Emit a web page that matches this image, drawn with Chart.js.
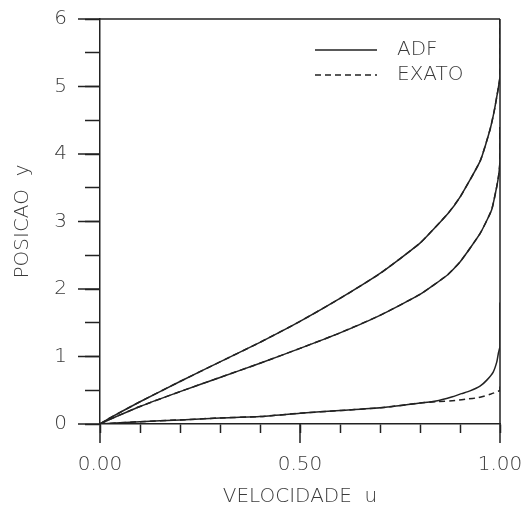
<!DOCTYPE html>
<html>
<head>
<meta charset="utf-8">
<script src="https://cdn.jsdelivr.net/npm/chart.js@4.4.1/dist/chart.umd.min.js"></script>
<style>
  html, body { margin: 0; padding: 0; background: #fff; }
  #wrap { width: 527px; height: 512px; }
</style>
</head>
<body>
<div id="wrap"><canvas id="chartPerfil" width="527" height="512"></canvas></div>
<script>
// curva superior (ADF e exato praticamente coincidem)
const uSuperior = [0, 0.025, 0.1, 0.2, 0.3, 0.4, 0.5, 0.6, 0.7, 0.8, 0.87, 0.9, 0.95, 0.975, 0.985, 0.992, 0.997, 1.0, 1.0];
const ySuperior = [0, 0.09, 0.33, 0.63, 0.92, 1.21, 1.52, 1.86, 2.23, 2.68, 3.12, 3.36, 3.89, 4.36, 4.62, 4.85, 5.02, 5.15, 6.0];

// curva intermediaria
const uMedio = [0, 0.025, 0.1, 0.2, 0.3, 0.4, 0.5, 0.6, 0.7, 0.8, 0.867, 0.9, 0.95, 0.979, 0.992, 0.997, 1.0, 1.0];
const yMedio = [0, 0.07, 0.26, 0.48, 0.69, 0.9, 1.12, 1.35, 1.61, 1.92, 2.2, 2.4, 2.82, 3.17, 3.52, 3.7, 3.9, 4.4];

// curva inferior, ADF
const uInferiorAdf = [0, 0.1, 0.2, 0.3, 0.4, 0.5, 0.6, 0.7, 0.8, 0.84, 0.879, 0.904, 0.925, 0.95, 0.967, 0.983, 0.992, 0.996, 1.0, 1.0];
const yInferiorAdf = [0, 0.035, 0.06, 0.09, 0.11, 0.16, 0.2, 0.24, 0.31, 0.34, 0.4, 0.45, 0.49, 0.56, 0.65, 0.77, 0.92, 1.05, 1.15, 1.8];

// curva inferior, exato
const uInferiorExato = [0, 0.1, 0.2, 0.3, 0.4, 0.5, 0.6, 0.7, 0.8, 0.84, 0.892, 0.917, 0.946, 0.975, 1.0, 1.0];
const yInferiorExato = [0, 0.035, 0.06, 0.09, 0.11, 0.16, 0.2, 0.24, 0.31, 0.33, 0.35, 0.37, 0.39, 0.44, 0.5, 0.6];

const xMajorTicks = [0, 0.5, 1.0];
const yMajorTicks = [0, 1, 2, 3, 4, 5, 6];

const INK = '#222';
const TEXT = '#3a3a3a';
const FONT = { family: 'DejaVu Sans', size: 20, weight: 200 };

const toPoints = (us, ys) => us.map((u, i) => ({ x: u, y: ys[i] }));
const isMajor = (value, majors) => majors.some((m) => Math.abs(m - value) < 1e-6);

function lineSet(label, us, ys, dashed) {
  return {
    label,
    data: toPoints(us, ys),
    showLine: true,
    borderColor: INK,
    borderWidth: 1.5,
    borderDash: dashed ? [6, 4] : [],
    pointRadius: 0,
    tension: 0.15,
    fill: false,
  };
}

// moldura superior/direita e ticks maiores mais longos
const framePlugin = {
  id: 'frame',
  afterDraw(chart) {
    const { ctx, chartArea, scales } = chart;
    ctx.save();
    ctx.strokeStyle = INK;
    ctx.lineWidth = 1.5;
    ctx.beginPath();
    ctx.moveTo(chartArea.left, chartArea.top);
    ctx.lineTo(chartArea.right, chartArea.top);
    ctx.moveTo(chartArea.right, chartArea.top);
    ctx.lineTo(chartArea.right, chartArea.bottom);
    xMajorTicks.forEach((v) => {
      const px = scales.x.getPixelForValue(v);
      ctx.moveTo(px, chartArea.bottom);
      ctx.lineTo(px, chartArea.bottom + 19);
    });
    yMajorTicks.forEach((v) => {
      const py = scales.y.getPixelForValue(v);
      ctx.moveTo(chartArea.left - 22, py);
      ctx.lineTo(chartArea.left, py);
    });
    ctx.stroke();
    ctx.restore();
  },
};

// legenda dentro da area do grafico
const legendPlugin = {
  id: 'legendaInterna',
  afterDraw(chart) {
    const { ctx, chartArea } = chart;
    const entries = [
      { text: 'ADF', dash: [] },
      { text: 'EXATO', dash: [6, 4] },
    ];
    const x0 = chartArea.left + 215;
    const x1 = chartArea.left + 277;
    ctx.save();
    entries.forEach((entry, i) => {
      const y = chartArea.top + 31 + i * 25;
      ctx.strokeStyle = INK;
      ctx.lineWidth = 1.5;
      ctx.setLineDash(entry.dash);
      ctx.beginPath();
      ctx.moveTo(x0, y);
      ctx.lineTo(x1, y);
      ctx.stroke();
      ctx.setLineDash([]);
      ctx.fillStyle = TEXT;
      ctx.font = `${FONT.weight} ${FONT.size}px "${FONT.family}"`;
      ctx.textBaseline = 'middle';
      ctx.fillText(entry.text, x1 + 20, y);
    });
    ctx.restore();
  },
};

new Chart(document.getElementById('chartPerfil').getContext('2d'), {
  type: 'scatter',
  data: {
    datasets: [
      lineSet('ADF', uSuperior, ySuperior, false),
      lineSet('ADF', uMedio, yMedio, false),
      lineSet('ADF', uInferiorAdf, yInferiorAdf, false),
      lineSet('EXATO', uSuperior, ySuperior, true),
      lineSet('EXATO', uMedio, yMedio, true),
      lineSet('EXATO', uInferiorExato, yInferiorExato, true),
    ],
  },
  options: {
    responsive: false,
    animation: false,
    layout: { padding: { top: 19, right: 27, left: 0, bottom: 0 } },
    scales: {
      x: {
        type: 'linear',
        min: 0,
        max: 1,
        afterFit: (scale) => {
          scale.height = 88;
          scale.paddingLeft = 0;
          scale.paddingRight = 0;
        },
        grid: { drawOnChartArea: false, tickLength: 9, tickColor: INK, tickWidth: 1.5 },
        border: { color: INK, width: 1.5 },
        ticks: {
          stepSize: 0.1,
          autoSkip: false,
          maxRotation: 0,
          padding: 20,
          color: TEXT,
          font: FONT,
          callback: (value) => (isMajor(value, xMajorTicks) ? Number(value).toFixed(2) : ''),
        },
        title: { display: true, text: 'VELOCIDADE  u', color: TEXT, font: FONT, padding: { top: 0, bottom: 3 } },
      },
      y: {
        type: 'linear',
        min: 0,
        max: 6,
        afterFit: (scale) => {
          scale.width = 100;
          scale.paddingTop = 0;
          scale.paddingBottom = 0;
        },
        grid: { drawOnChartArea: false, tickLength: 15, tickColor: INK, tickWidth: 1.5 },
        border: { color: INK, width: 1.5 },
        ticks: {
          stepSize: 0.5,
          autoSkip: false,
          padding: 18,
          color: TEXT,
          font: FONT,
          callback: (value) => (isMajor(value, yMajorTicks) ? String(value) : ''),
        },
        title: { display: true, text: 'POSICAO  y', color: TEXT, font: FONT, padding: { top: 11, bottom: 0 } },
      },
    },
    plugins: {
      legend: { display: false },
      tooltip: { enabled: false },
    },
  },
  plugins: [framePlugin, legendPlugin],
});
</script>
</body>
</html>
